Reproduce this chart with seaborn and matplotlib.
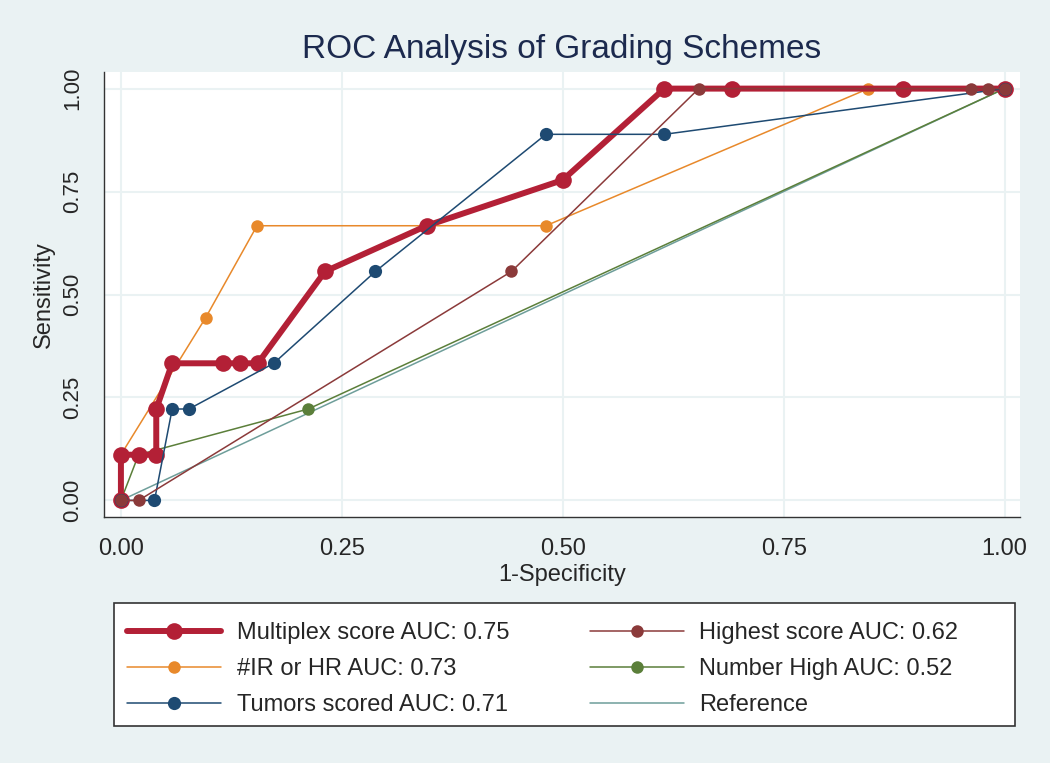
import numpy as np
import pandas as pd
import matplotlib
matplotlib.use('Agg')
import matplotlib.pyplot as plt
from matplotlib.patches import Rectangle
import seaborn as sns

# ROC curves (x = 1-specificity, y = sensitivity)
multiplex_x = [0.0, 0.0, 0.02, 0.04, 0.04, 0.058, 0.116, 0.135, 0.155, 0.231, 0.346, 0.5, 0.615, 0.692, 0.885, 1.0]
multiplex_y = [0.0, 0.111, 0.111, 0.111, 0.222, 0.333, 0.333, 0.333, 0.333, 0.556, 0.667, 0.778, 1.0, 1.0, 1.0, 1.0]

irhr_x = [0.0, 0.0, 0.096, 0.154, 0.481, 0.846, 1.0]
irhr_y = [0.0, 0.111, 0.444, 0.667, 0.667, 1.0, 1.0]

tumors_x = [0.0, 0.038, 0.058, 0.077, 0.173, 0.288, 0.481, 0.615, 1.0]
tumors_y = [0.0, 0.0, 0.222, 0.222, 0.333, 0.556, 0.889, 0.889, 1.0]

highest_x = [0.0, 0.02, 0.442, 0.654, 0.962, 0.981, 1.0]
highest_y = [0.0, 0.0, 0.556, 1.0, 1.0, 1.0, 1.0]

numhigh_x = [0.0, 0.02, 0.212, 1.0]
numhigh_y = [0.0, 0.111, 0.222, 1.0]

ref_x = [0.0, 1.0]
ref_y = [0.0, 1.0]

labels = ['Multiplex score AUC: 0.75', '#IR or HR AUC: 0.73', 'Tumors scored AUC: 0.71',
          'Highest score AUC: 0.62', 'Number High AUC: 0.52', 'Reference']
ticks = [0.0, 0.25, 0.5, 0.75, 1.0]
tick_labels = ['0.00', '0.25', '0.50', '0.75', '1.00']

# x, y, colour, line width, marker size, zorder
series = [
    (multiplex_x, multiplex_y, '#B32036', 4.3, 12, 4),
    (irhr_x, irhr_y, '#E8892B', 1.1, 9, 2.5),
    (tumors_x, tumors_y, '#1E4A72', 1.1, 9.5, 5),
    (highest_x, highest_y, '#8B3A3A', 1.1, 9, 5),
    (numhigh_x, numhigh_y, '#5B7F3A', 1.1, 9, 2.4),
    (ref_x, ref_y, '#6E9E9A', 1.1, 0, 2.3),
]

bg = '#EAF2F3'
sns.set_style('white')
plt.rcParams['font.family'] = ['Liberation Sans', 'DejaVu Sans']

fig = plt.figure(figsize=(10.5, 7.63), dpi=100, facecolor=bg)
ax = fig.add_axes([0.099, 0.322, 0.872, 0.584])
ax.set_facecolor('white')

for i, (xs, ys, col, lw, ms, z) in enumerate(series):
    df = pd.DataFrame({'x': xs, 'y': ys})
    sns.lineplot(data=df, x='x', y='y', ax=ax, sort=False, estimator=None,
                 color=col, linewidth=lw, marker='o' if ms else None,
                 markersize=ms, markeredgewidth=0, label=labels[i], zorder=z)

ax.set_xlim(-0.0192, 1.017)
ax.set_ylim(-0.041, 1.041)
ax.set_xticks(ticks)
ax.set_xticklabels(tick_labels, fontsize=17)
ax.set_yticks(ticks)
ax.set_yticklabels(tick_labels, fontsize=16, rotation=90, va='center')
ax.grid(True, color=bg, linewidth=1.5, zorder=0)
ax.set_axisbelow(True)
ax.tick_params(axis='both', direction='out', length=7, width=1, color='#444444', pad=8)
for s in ['top', 'right']:
    ax.spines[s].set_visible(False)
for s in ['left', 'bottom']:
    ax.spines[s].set_color('#333333')
    ax.spines[s].set_linewidth(1)

ax.set_xlabel('1-Specificity', fontsize=17, labelpad=3)
ax.set_ylabel('Sensitivity', fontsize=17, labelpad=5)
ax.set_title('ROC Analysis of Grading Schemes', fontsize=24, color='#1C2A4E', pad=10)

handles, lbls = ax.get_legend_handles_labels()
ax.get_legend().remove()

# legend box drawn as its own rectangle so its size matches the reference
box = Rectangle((114 / 1050, 1 - 726 / 763), (1015 - 114) / 1050, (726 - 603) / 763,
                transform=fig.transFigure, facecolor='white', edgecolor='#333333',
                linewidth=1.2, zorder=1)
fig.patches.append(box)
leg = fig.legend(handles, lbls, ncol=2, loc='upper left',
                 bbox_to_anchor=(114 / 1050, 1 - 609 / 763),
                 bbox_transform=fig.transFigure, fontsize=17, frameon=False,
                 handlelength=4.0, handletextpad=0.65, numpoints=1, borderpad=0.55,
                 borderaxespad=0, labelspacing=0.6, columnspacing=3.4)
leg.set_zorder(2)

fig.savefig('out.png', dpi=100, facecolor=bg)
